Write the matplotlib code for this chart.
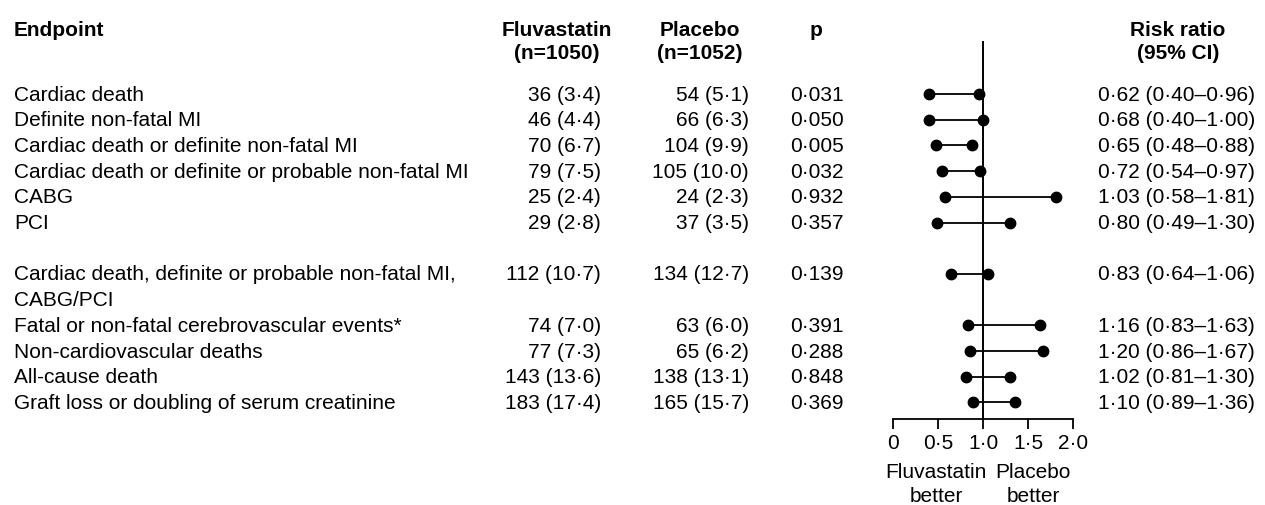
import matplotlib
matplotlib.use("Agg")
import matplotlib.pyplot as plt

plt.rcParams["font.family"] = ["Liberation Sans", "DejaVu Sans"]

# data
endpoints = [
    "Cardiac death",
    "Definite non-fatal MI",
    "Cardiac death or definite non-fatal MI",
    "Cardiac death or definite or probable non-fatal MI",
    "CABG",
    "PCI",
    "Cardiac death, definite or probable non-fatal MI,\nCABG/PCI",
    "Fatal or non-fatal cerebrovascular events*",
    "Non-cardiovascular deaths",
    "All-cause death",
    "Graft loss or doubling of serum creatinine",
]
fluva_n = [36, 46, 70, 79, 25, 29, 112, 74, 77, 143, 183]
fluva_pct = [3.4, 4.4, 6.7, 7.5, 2.4, 2.8, 10.7, 7.0, 7.3, 13.6, 17.4]
placebo_n = [54, 66, 104, 105, 24, 37, 134, 63, 65, 138, 165]
placebo_pct = [5.1, 6.3, 9.9, 10.0, 2.3, 3.5, 12.7, 6.0, 6.2, 13.1, 15.7]
p_values = [0.031, 0.050, 0.005, 0.032, 0.932, 0.357, 0.139, 0.391, 0.288, 0.848, 0.369]
rr = [0.62, 0.68, 0.65, 0.72, 1.03, 0.80, 0.83, 1.16, 1.20, 1.02, 1.10]
ci_low = [0.40, 0.40, 0.48, 0.54, 0.58, 0.49, 0.64, 0.83, 0.86, 0.81, 0.89]
ci_high = [0.96, 1.00, 0.88, 0.97, 1.81, 1.30, 1.06, 1.63, 1.67, 1.30, 1.36]
x_ticks = [0, 0.5, 1.0, 1.5, 2.0]
x_ticklabels = ["0", "0·5", "1·0", "1·5", "2·0"]


def dot(v, nd):
    return f"{v:.{nd}f}".replace(".", "·")


# layout (pixels, y downwards)
W, H = 1265, 506
STEP = 25.7
row_slot = [0, 1, 2, 3, 4, 5, 7, 9, 10, 11, 12]
row_y = [95 + STEP * s for s in row_slot]
FS = 15

fig = plt.figure(figsize=(W / 100, H / 100), dpi=100)
ax = fig.add_axes([0, 0, 1, 1])
ax.set_xlim(0, W)
ax.set_ylim(H, 0)
ax.axis("off")

# headers
hb = dict(fontsize=FS, fontweight="bold", va="center")
ax.text(14, 30, "Endpoint", ha="left", **hb)
ax.text(557, 30, "Fluvastatin", ha="center", **hb)
ax.text(557, 53, "(n=1050)", ha="center", **hb)
ax.text(700, 30, "Placebo", ha="center", **hb)
ax.text(700, 53, "(n=1052)", ha="center", **hb)
ax.text(816, 30, "p", ha="center", **hb)
ax.text(1178, 30, "Risk ratio", ha="center", **hb)
ax.text(1178, 53, "(95% CI)", ha="center", **hb)

# table rows
for i, y in enumerate(row_y):
    for k, line in enumerate(endpoints[i].split("\n")):
        ax.text(14, y + k * STEP, line, ha="left", va="center", fontsize=FS)
    ax.text(601, y, f"{fluva_n[i]} ({dot(fluva_pct[i], 1)})", ha="right", va="center", fontsize=FS)
    ax.text(749, y, f"{placebo_n[i]} ({dot(placebo_pct[i], 1)})", ha="right", va="center", fontsize=FS)
    ax.text(790, y, dot(p_values[i], 3), ha="left", va="center", fontsize=FS)
    ax.text(1255, y, f"{dot(rr[i], 2)} ({dot(ci_low[i], 2)}–{dot(ci_high[i], 2)})",
            ha="right", va="center", fontsize=FS)

# forest panel
top, bottom = 42, 420
fx = fig.add_axes([893 / W, (H - bottom) / H, 180 / W, (bottom - top) / H])
fx.set_xlim(0, 2)
fx.set_ylim(bottom, top)
fx.patch.set_alpha(0)
for s in ["top", "right", "left"]:
    fx.spines[s].set_visible(False)
fx.spines["bottom"].set_linewidth(1.3)
fx.set_yticks([])
fx.set_xticks(x_ticks)
fx.set_xticklabels(x_ticklabels, fontsize=FS)
fx.tick_params(axis="x", direction="out", length=7, width=1.3, pad=3)
fx.axvline(1.0, color="black", lw=1.4)

for i, y in enumerate(row_y):
    fx.plot([ci_low[i], ci_high[i]], [y, y], color="black", lw=1.3,
            marker="o", markersize=7.5, clip_on=False)

fx.text(0.48, 473, "Fluvastatin", ha="center", va="center", fontsize=FS, clip_on=False)
fx.text(0.48, 497, "better", ha="center", va="center", fontsize=FS, clip_on=False)
fx.text(1.56, 473, "Placebo", ha="center", va="center", fontsize=FS, clip_on=False)
fx.text(1.56, 497, "better", ha="center", va="center", fontsize=FS, clip_on=False)

fig.savefig("out.png", dpi=100)
